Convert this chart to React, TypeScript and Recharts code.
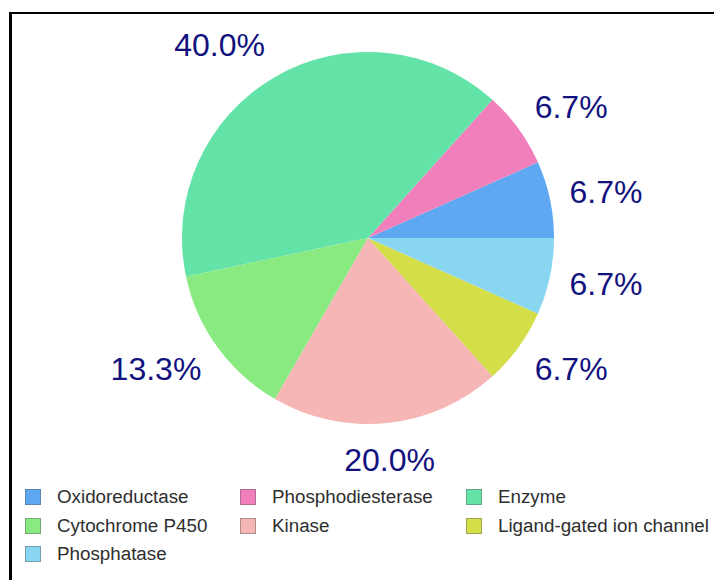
import { PieChart, Pie, Cell, Legend } from 'recharts'

const categories = [
  'Oxidoreductase',
  'Phosphodiesterase',
  'Enzyme',
  'Cytochrome P450',
  'Kinase',
  'Ligand-gated ion channel',
  'Phosphatase',
]
const counts = [1, 1, 6, 2, 3, 1, 1]
const colors = ['#5ea8f2', '#f07fbb', '#64e3a8', '#88ea80', '#f6b6b6', '#d4de48', '#88d6f0']

// legend rows, read left to right
const legendOrder = [0, 1, 2, 3, 4, 5, 6]

const data = categories.map((name, i) => ({ name, value: counts[i] }))

const RAD = Math.PI / 180
const FONT = 'Liberation Sans, Arial, sans-serif'

function PctLabel(props: any) {
  const { cx, cy, midAngle, percent } = props
  const c = Math.cos(midAngle * RAD)
  const s = Math.sin(midAngle * RAD)
  const x = cx + 206 * c
  const y = cy - 223 * s
  const anchor = c > 0.3 ? 'start' : c < -0.3 ? 'end' : 'middle'
  return (
    <text x={x} y={y} textAnchor={anchor} dominantBaseline="central"
      fill="#12127f" fontSize={32} fontFamily={FONT}>
      {(percent * 100).toFixed(1)}%
    </text>
  )
}

function LegendGrid() {
  const colX = [25, 240, 466]
  return (
    <div style={{ position: 'relative', width: 714, height: 90 }}>
      {legendOrder.map((idx, k) => {
        const col = k % 3
        const row = Math.floor(k / 3)
        return (
          <div key={categories[idx]} style={{
            position: 'absolute', left: colX[col], top: row * 28.5,
            display: 'flex', alignItems: 'center', height: 16,
          }}>
            <span style={{
              width: 14, height: 14, background: colors[idx],
              border: '1px solid rgba(90,90,90,0.45)', display: 'inline-block',
            }} />
            <span style={{
              marginLeft: 16, fontFamily: FONT, fontSize: 18.8, color: '#2e2e2e',
              whiteSpace: 'nowrap', lineHeight: '16px',
            }}>{categories[idx]}</span>
          </div>
        )
      })}
    </div>
  )
}

export default function App() {
  return (
    <div style={{ position: 'absolute', left: 0, top: 0, width: 714, height: 580, overflow: 'hidden', background: '#fff' }}>
      <div style={{
        position: 'absolute', left: 9, top: 12, width: 740, height: 620,
        borderLeft: '3px solid #000', borderTop: '2.5px solid #000',
      }} />
      <div style={{ position: 'absolute', left: 0, top: 0 }}>
        <PieChart width={714} height={580} margin={{ top: 0, right: 0, bottom: 0, left: 0 }}>
          <Pie data={data} dataKey="value" nameKey="name" cx={368} cy={238}
            outerRadius={186} startAngle={0} endAngle={360} stroke="none"
            label={PctLabel} labelLine={false} isAnimationActive={false}>
            {data.map((d, i) => <Cell key={d.name} fill={colors[i]} />)}
          </Pie>
          <Legend content={() => <LegendGrid />}
            wrapperStyle={{ position: 'absolute', left: 0, top: 489, width: 714 }} />
        </PieChart>
      </div>
    </div>
  )
}
